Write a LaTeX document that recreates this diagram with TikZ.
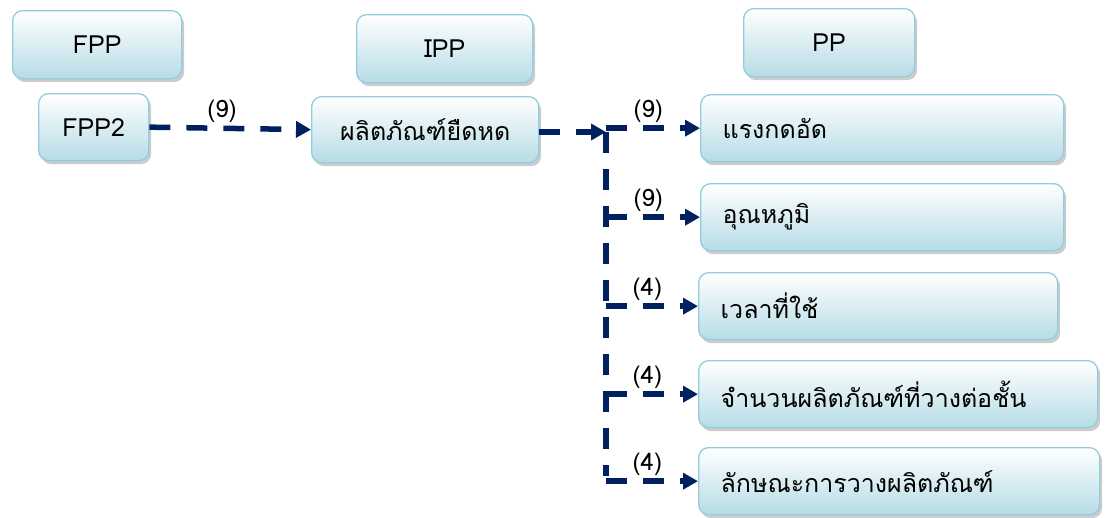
\documentclass[tikz,border=0pt]{standalone}
\usepackage{fontspec}
\newfontfamily\thaifont[Script=Thai]{Loma}
\usetikzlibrary{arrows.meta,shadows,positioning}
\definecolor{boxedge}{HTML}{93CDDD}
\definecolor{boxbottom}{HTML}{B6DCE6}
\definecolor{navy}{HTML}{002060}
\tikzset{
  box/.style={draw=boxedge, line width=1.3pt, rounded corners=10pt,
    top color=white, bottom color=boxbottom,
    drop shadow={shadow xshift=2.5pt, shadow yshift=-3.5pt, fill=black!40, opacity=0.5},
    font=\thaifont\fontsize{25}{28}\selectfont, inner sep=0pt},
  hbox/.style={box, align=center},
  pbox/.style={box, anchor=north west, align=left, text width=#1, inner xsep=22pt, minimum height=67pt},
  link/.style={draw=navy, line width=5.5pt, dash pattern=on 21pt off 16pt},
  arr/.style={link, -{Triangle[length=15pt,width=16pt]}},
  lbl/.style={font=\thaifont\fontsize{24}{26}\selectfont, inner sep=0pt}
}
\begin{document}
\begin{tikzpicture}[x=1pt,y=-1pt]
\useasboundingbox (0,0) rectangle (1116,517);
% headers
\node[hbox, minimum width=169pt, minimum height=68pt, anchor=north west] (fpp) at (12,10) {FPP};
\node[hbox, minimum width=176pt, minimum height=68pt, anchor=north west] (ipp) at (356,14) {IPP};
\node[hbox, minimum width=171pt, minimum height=68pt, anchor=north west] (pp) at (743,8) {PP};
% sources
\node[hbox, minimum width=110pt, minimum height=67pt, anchor=north west] (fpp2) at (38,93) {FPP2};
\node[box, minimum width=227pt, minimum height=66pt, anchor=north west] (prod) at (311,96) {ผลิตภัณฑ์ยืดหด};
% targets
\node[pbox=319pt] (p1) at (700,94) {แรงกดอัด};
\node[pbox=319pt] (p2) at (700,183) {อุณหภูมิ};
\node[pbox=315pt] (p3) at (698,272) {เวลาที่ใช้};
\node[pbox=355pt] (p4) at (698,360) {จำนวนผลิตภัณฑ์ที่วางต่อชั้น};
\node[pbox=357pt] (p5) at (698,447) {ลักษณะการวางผลิตภัณฑ์};
% junction
\coordinate (j1) at (606,132);
\coordinate (j5) at (606,476);
% connectors
\draw[arr] (fpp2.east) -- (prod.west) node[lbl, pos=0.45, above=3pt] {(9)};
\draw[arr] (prod.east |- j1) -- (j1);
\draw[link] (j1) -- (j5);
\draw[arr] (j1 |- p1.west) -- (p1.west) node[lbl, pos=0.45, above=3pt] {(9)};
\draw[arr] (j1 |- p2.west) -- (p2.west) node[lbl, pos=0.45, above=3pt] {(9)};
\draw[arr] (j1 |- p3.west) -- (p3.west) node[lbl, pos=0.45, above=3pt] {(4)};
\draw[arr] (j1 |- p4.west) -- (p4.west) node[lbl, pos=0.45, above=3pt] {(4)};
\draw[arr] (j1 |- p5.west) -- (p5.west) node[lbl, pos=0.45, above=3pt] {(4)};
\end{tikzpicture}
\end{document}
